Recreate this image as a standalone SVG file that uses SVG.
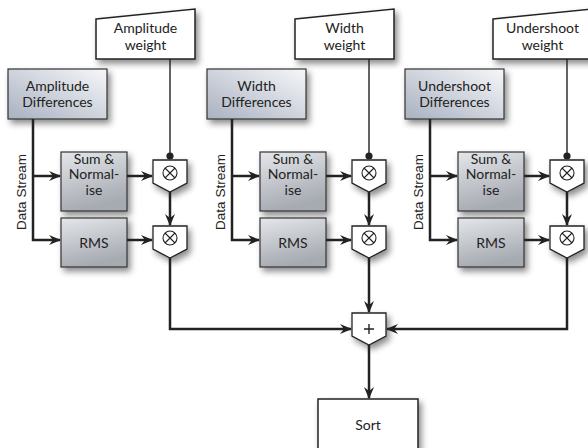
<svg xmlns="http://www.w3.org/2000/svg" width="588" height="448" viewBox="0 0 588 448">
<style>
.t{font-family:Lato,"Open Sans","Liberation Sans",sans-serif;font-size:14px;fill:#222;text-anchor:middle}
.ds{font-family:"Liberation Sans",Arial,sans-serif;font-size:13.5px;fill:#222;text-anchor:middle}
.w{fill:#fff;stroke:#222;stroke-width:1.5}
.diff{fill:url(#gd);stroke:#333;stroke-width:1.2}
.proc{fill:url(#gp);stroke:#333;stroke-width:1.2}
.pent{fill:#fff;stroke:#222;stroke-width:1.3}
.sym{fill:none;stroke:#222;stroke-width:1.1}
.c{fill:none;stroke:#222;stroke-width:2.5}
.wl{fill:none;stroke:#222;stroke-width:1.4}
</style>
<defs>
<linearGradient id="gd" x1="0" y1="1" x2="1" y2="0">
<stop offset="0" stop-color="#a9b1c0"/>
<stop offset="1" stop-color="#f6f7f9"/>
</linearGradient>
<linearGradient id="gp" x1="0" y1="0" x2="0.3" y2="1">
<stop offset="0" stop-color="#e4e6ea"/>
<stop offset="1" stop-color="#a6aab1"/>
</linearGradient>
<filter id="sh" x="-20%" y="-20%" width="150%" height="160%">
<feDropShadow dx="3" dy="4" stdDeviation="3" flood-color="#000" flood-opacity="0.45"/>
</filter>
<marker id="ar" viewBox="0 0 12 10" refX="11" refY="5" markerWidth="12" markerHeight="10" markerUnits="userSpaceOnUse" orient="auto">
<path d="M0,0 L12,5 L0,10 L4,5 z" fill="#222"/>
</marker>
<g id="col">
<polygon class="w" filter="url(#sh)" points="96,19 195,9 195,59 96,59"/>
<rect class="diff" filter="url(#sh)" x="8" y="69" width="99" height="50"/>
<rect class="proc" filter="url(#sh)" x="61" y="152" width="66" height="59"/>
<rect class="proc" filter="url(#sh)" x="61" y="218" width="66" height="49"/>
<polygon class="pent" filter="url(#sh)" points="153,160 187,160 187,183 170,192 153,183"/>
<polygon class="pent" filter="url(#sh)" points="153,226 187,226 187,249 170,258 153,249"/>
<circle class="sym" cx="170" cy="173" r="7"/>
<path class="sym" d="M165,168 L175,178 M175,168 L165,178"/>
<circle class="sym" cx="170" cy="238" r="7"/>
<path class="sym" d="M165,233 L175,243 M175,233 L165,243"/>
<path class="wl" d="M170,59 V156"/>
<circle cx="170" cy="156" r="3.6" fill="#222"/>
<path class="c" d="M33,119 V240 H60" marker-end="url(#ar)"/>
<path class="c" d="M33,176 H60" marker-end="url(#ar)"/>
<path class="c" d="M127,176 H152" marker-end="url(#ar)"/>
<path class="c" d="M127,240 H152" marker-end="url(#ar)"/>
<path class="c" d="M170,192 V225" marker-end="url(#ar)"/>
<text class="ds" transform="translate(26,192) rotate(-90)">Data Stream</text>
<text class="t" x="94" y="164">Sum &amp;</text>
<text class="t" x="94" y="179">Normal-</text>
<text class="t" x="94" y="195">ise</text>
<text class="t" x="94" y="248">RMS</text>
</g>
</defs>
<g id="amplitude">
<use href="#col"/>
<text class="t" x="145.5" y="33">Amplitude</text>
<text class="t" x="145.5" y="50">weight</text>
<text class="t" x="57.5" y="91">Amplitude</text>
<text class="t" x="57.5" y="107">Differences</text>
</g>
<g id="width" transform="translate(199,0)">
<use href="#col"/>
<text class="t" x="145.5" y="33">Width</text>
<text class="t" x="145.5" y="50">weight</text>
<text class="t" x="57.5" y="91">Width</text>
<text class="t" x="57.5" y="107">Differences</text>
</g>
<g id="undershoot" transform="translate(397,0)">
<use href="#col"/>
<text class="t" x="145.5" y="33">Undershoot</text>
<text class="t" x="145.5" y="50">weight</text>
<text class="t" x="57.5" y="91">Undershoot</text>
<text class="t" x="57.5" y="107">Differences</text>
</g>
<g id="sum">
<polygon class="pent" filter="url(#sh)" points="352,313 386,313 386,336 369,345 352,336"/>
<path d="M364,329 H374 M369,324 V334" stroke="#222" stroke-width="1.4"/>
</g>
<g id="sort">
<rect class="w" filter="url(#sh)" x="318" y="399" width="100" height="70"/>
<text class="t" x="368" y="430">Sort</text>
</g>
<g id="connectors">
<path class="c" d="M170,258 V329 H351" marker-end="url(#ar)"/>
<path class="c" d="M369,258 V312" marker-end="url(#ar)"/>
<path class="c" d="M567,258 V329 H387" marker-end="url(#ar)"/>
<path class="c" d="M369,345 V398" marker-end="url(#ar)"/>
</g>
</svg>
